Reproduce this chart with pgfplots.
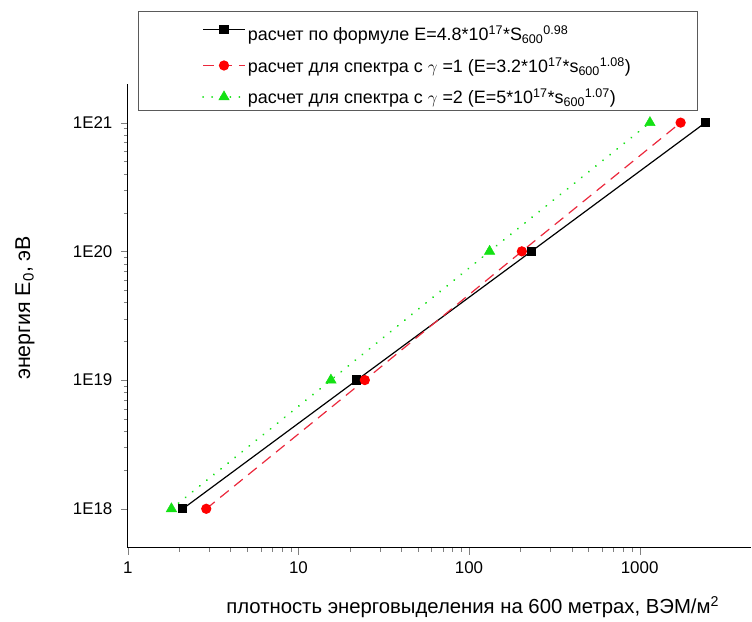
\documentclass[border=0pt]{standalone}
\usepackage{fontspec}
\setmainfont{Liberation Sans}
\usepackage{pgfplots}
\pgfplotsset{compat=1.18}
\definecolor{mygreen}{RGB}{20,225,20}
\definecolor{myred}{RGB}{255,0,0}
\definecolor{dashred}{RGB}{235,40,60}
\definecolor{boxgray}{RGB}{90,90,90}
\begin{document}
\begin{tikzpicture}
\begin{axis}[
  at={(0,0)}, anchor=south west,
  width=624bp, height=464bp, scale only axis,
  xmode=log, ymode=log,
  xmin=1, xmax=4524, ymin=5e17, ymax=2e21,
  axis x line=bottom, axis y line=left,
  axis line style={-, line width=1.2bp, black},
  xtick={1,10,100,1000}, xticklabels={1,10,100,1000},
  ytick={1e18,1e19,1e20,1e21}, yticklabels={1E18,1E19,1E20,1E21},
  tick align=outside,
  major tick length=7bp, minor tick length=4bp,
  ticklabel style={font=\fontsize{17}{20}\selectfont},
  xticklabel style={yshift=-4bp},
  yticklabel style={xshift=-5bp},
  xlabel={плотность энерговыделения на 600 метрах, ВЭМ/м\textsuperscript{2}},
  ylabel={энергия E\textsubscript{0}, эВ},
  xlabel style={at={(axis description cs:0.553,-0.129)}, anchor=center, font=\fontsize{20.4}{23}\selectfont},
  ylabel style={at={(axis description cs:-0.165,0.517)}, anchor=center, font=\fontsize{21.5}{24}\selectfont},
  legend cell align=left,
  legend style={at={(axis description cs:0.016,1.157)}, anchor=north west,
    draw=boxgray, fill=white,
    font=\fontsize{18}{21}\selectfont,
    inner xsep=64bp, inner ysep=3.5bp, row sep=11bp},
  legend image code/.code={\draw[mark repeat=2,mark phase=2] plot coordinates {(0bp,0bp) (21bp,0bp) (42bp,0bp)};},
]
\addplot[black, line width=1.2bp, mark=square*, mark size=4bp, mark options={solid, fill=black}]
  coordinates {(2.1,1e18) (22,1e19) (232,1e20) (2430,1e21)};
\addlegendentry{\rule{0pt}{24bp}расчет по формуле E=4.8*10\textsuperscript{17}*S\textsubscript{600}\textsuperscript{0.98}}
\addplot[dashred, line width=1.2bp, dash pattern=on 11bp off 7bp, mark=*, mark size=4.5bp, mark options={solid, fill=myred, draw=myred}]
  coordinates {(2.88,1e18) (24.5,1e19) (204,1e20) (1740,1e21)};
\addlegendentry{расчет для спектра с $\gamma$ =1 (E=3.2*10\textsuperscript{17}*s\textsubscript{600}\textsuperscript{1.08})}
\addplot[mygreen, line width=2bp, line cap=round, dash pattern=on 0.1bp off 9bp, mark=triangle*, mark size=6bp, mark options={solid, fill=mygreen, draw=mygreen, line width=0.5bp}]
  coordinates {(1.8,1e18) (15.5,1e19) (132,1e20) (1150,1e21)};
\addlegendentry{расчет для спектра с $\gamma$ =2 (E=5*10\textsuperscript{17}*s\textsubscript{600}\textsuperscript{1.07})}
\end{axis}
\path (-128bp,-71bp) rectangle (624bp,548bp);
\end{tikzpicture}
\end{document}
